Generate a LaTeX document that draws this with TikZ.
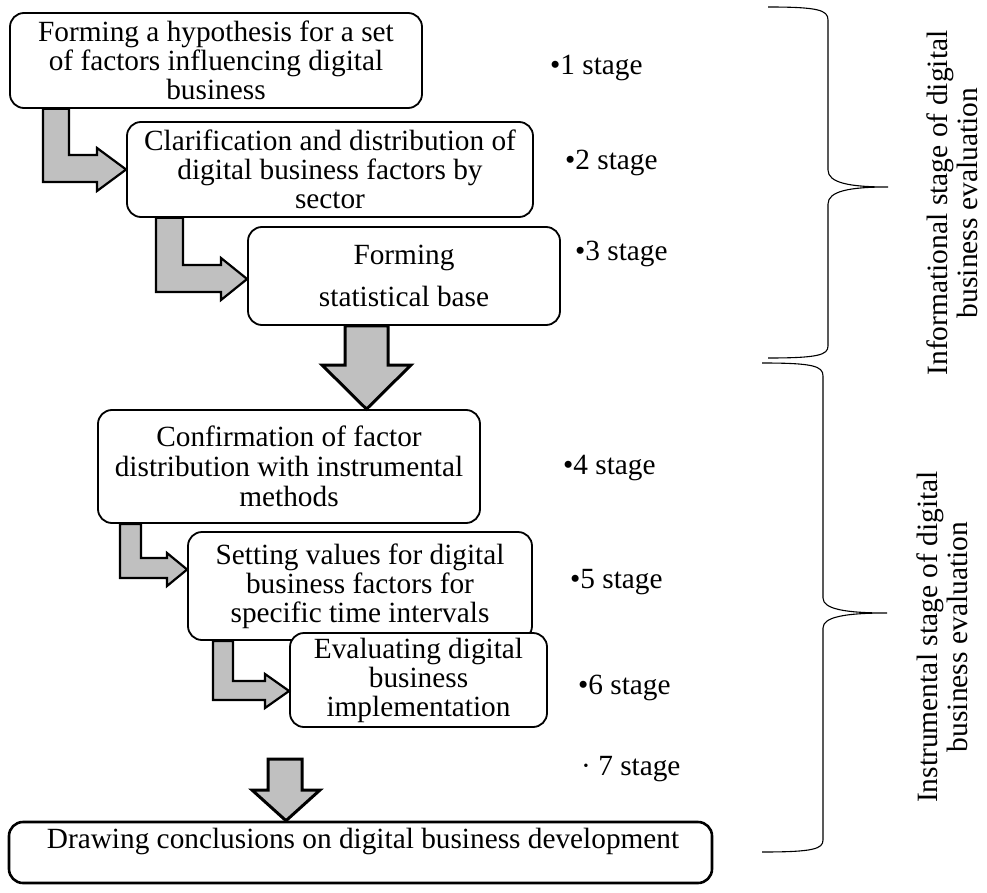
\documentclass[tikz,border=0pt]{standalone}
\usepackage{fontspec}
\setmainfont{Liberation Serif}
\usetikzlibrary{calc}
\definecolor{arrgray}{RGB}{192,192,192}
\begin{document}
\begin{tikzpicture}[x=1pt,y=-1pt,
  every node/.style={font=\fontsize{29.3}{29}\selectfont},
  box/.style={draw, line width=1.8pt, rounded corners=14pt, fill=white, align=center, inner sep=0pt},
  sarrow/.style={draw, line width=2.2pt, fill=arrgray, line join=miter},
  barrow/.style={draw, line width=3pt, fill=arrgray, line join=miter},
  stagelbl/.style={anchor=base west, inner sep=0pt},
  brace/.style={line width=1.1pt},
  bracetext/.style={rotate=90, align=center, inner sep=0pt, font=\fontsize{29.5}{30}\selectfont}]
\useasboundingbox (0,0) rectangle (987,893);

% boxes
\node[box, minimum width=412pt, minimum height=95pt] (b1) at (216,60.5)
  {Forming a hypothesis for a set\\of factors influencing digital\\business};
\node[box, minimum width=406pt, minimum height=95pt] (b2) at (330,169.5)
  {Clarification and distribution of\\digital business factors by\\sector};
\node[box, minimum width=312pt, minimum height=98pt] (b3) at (404,276)
  {Forming\\[13pt]statistical base};
\node[box, minimum width=382pt, minimum height=113pt] (b4) at (289,466.5)
  {Confirmation of factor\\[1pt]distribution with instrumental\\[1pt]methods};
\node[box, minimum width=344pt, minimum height=108pt] (b5) at (360,586)
  {Setting values for digital\\business factors for\\specific time intervals};
\node[box, minimum width=257pt, minimum height=94pt] (b6) at (418.5,680)
  {Evaluating digital\\business\\implementation};
\node[box, line width=2.6pt, minimum width=703pt, minimum height=61pt] (b7) at (360.5,852.5) {};
\node[anchor=base west, inner sep=0pt] (t7) at ($(b7.west)+(39,-4)$)
  {Drawing conclusions on digital business development};

% bent arrows
\draw[sarrow] (43,0 |- b1.south) -- (43,182) -- (97,182) -- (97,191) -- (b2.west |- 0,169.5)
  -- (97,148) -- (97,155) -- (69,155) -- (69,0 |- b1.south) -- cycle;
\draw[sarrow] (156,0 |- b2.south) -- (156,292) -- (221,292) -- (221,300) -- (b3.west |- 0,279)
  -- (221,258) -- (221,265) -- (183,265) -- (183,0 |- b2.south) -- cycle;
\draw[sarrow] (120,0 |- b4.south) -- (120,578) -- (167,578) -- (167,586) -- (b5.west |- 0,569.5)
  -- (167,553) -- (167,558) -- (141,558) -- (141,0 |- b4.south) -- cycle;
\draw[sarrow] (213,0 |- b5.south) -- (213,700) -- (265,700) -- (265,708) -- (b6.west |- 0,691)
  -- (265,674) -- (265,681) -- (233,681) -- (233,0 |- b5.south) -- cycle;

% big down arrows
\draw[barrow] (345,0 |- b3.south) -- (345,365) -- (322,365) -- (366.5,0 |- b4.north)
  -- (411,365) -- (388,365) -- (388,0 |- b3.south) -- cycle;
\coordinate (d2) at (268,759);
\draw[barrow] (d2) -- (268,790) -- (252,790) -- (286,0 |- b7.north)
  -- (320,790) -- (302,790) -- (302,759) -- cycle;

% stage labels
\node[stagelbl] (s1) at (550,75) {•1 stage};
\node[stagelbl] (s2) at (565,170) {•2 stage};
\node[stagelbl] (s3) at (575,260) {•3 stage};
\node[stagelbl] (s4) at (563,474) {•4 stage};
\node[stagelbl] (s5) at (570,588) {•5 stage};
\node[stagelbl] (s6) at (578,694) {•6 stage};
\node[stagelbl] (s7) at (581,775) {· 7 stage};

% braces
\draw[brace] (768,7) .. controls (818,7) and (828,10) .. (828,20) -- (828,170)
  .. controls (828,183) and (850,187) .. (888,187)
  .. controls (850,187) and (828,191) .. (828,204) -- (828,346)
  .. controls (828,355) and (818,358) .. (768,358);
\draw[brace] (762,363) .. controls (813,363) and (823,366) .. (823,376) -- (823,598)
  .. controls (823,609) and (845,613) .. (887,613)
  .. controls (845,613) and (823,617) .. (823,628) -- (823,840)
  .. controls (823,849) and (813,852) .. (762,852);

\node[bracetext] (l1) at (952,203) {Informational stage of digital\\business evaluation};
\node[bracetext] (l2) at (942,637) {Instrumental stage of digital\\business evaluation};
\end{tikzpicture}
\end{document}
